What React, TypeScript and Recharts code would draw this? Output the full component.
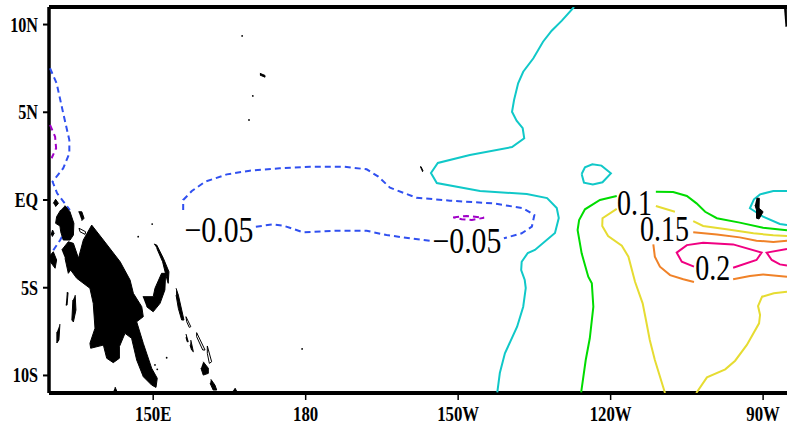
import React from "react";
import { ScatterChart, Scatter, XAxis, YAxis, ReferenceLine } from "recharts";

type P = [number, number];

const lonTicks = [150, 180, 210, 240, 270];
const lonLabels = ["150E", "180", "150W", "120W", "90W"];
const latTicks = [10, 5, 0, -5, -10];
const latLabels = ["10N", "5N", "EQ", "5S", "10S"];

// contours, [longitude east, latitude]
const cyanMain: P[] = [[232.8,11],[230.4,10.22],[228.4,9.65],[226.7,9.02],[224.8,8.08],[222.8,7.31],[221.8,6.65],[221.0,5.7],[220.6,5.03],[221.5,4.52],[222.7,4.09],[223.0,3.52],[220.6,3.02],[212.3,2.57],[206.0,2.11],[204.65,1.54],[205.8,0.97],[214.3,0.51],[223.5,0.34],[227.5,0.11],[229.4,-0.46],[229.8,-1.03],[229.05,-1.88],[225.1,-2.85],[223.7,-3.02],[222.5,-3.52],[222.4,-3.99],[223.1,-4.56],[223.3,-5.02],[222.8,-6.08],[221.6,-7.22],[219.2,-8.74],[218.2,-9.86],[217.7,-10.97]];
const cyanLoop: P[] = [[234.3,1.48],[234.95,1.86],[236.4,2.03],[238.2,1.96],[240.05,1.52],[238.4,1.01],[236.5,0.89],[234.75,0.99],[234.3,1.48]];
const cyanEast: P[] = [[274.7,0.51],[272,0.51],[269.4,0.32],[268.2,0.04],[267.4,-0.47],[270,-0.95],[273.3,-1.37],[274.7,-1.43]];
const greenWest: P[] = [[241.2,0.23],[237.9,0],[234.95,-0.53],[233.8,-1.14],[233.5,-1.71],[234.3,-3.04],[235.6,-4.37],[236.3,-4.75],[236.6,-6.08],[235.9,-7.88],[235.1,-9.12],[234.2,-10.97]];
const greenEast: P[] = [[248.9,0.47],[252.3,0.46],[255.0,0.23],[256.9,-0.19],[258.6,-0.67],[260.9,-1.04],[265.4,-1.29],[270.0,-1.58],[274.7,-1.73]];
const yellowWest: P[] = [[241.2,-0.51],[238.4,-1.04],[238.35,-1.48],[239.5,-2.05],[242.2,-2.6],[243.5,-3.23],[244.8,-4.66],[246.3,-5.89],[246.95,-6.84],[247.7,-7.98],[248.7,-9.12],[250.7,-11]];
const yellowStub: P[] = [[248.9,-0.34],[252.65,-0.67]];
const yellowEast: P[] = [[256.25,-1.2],[258.2,-1.48],[262.8,-1.67],[268.1,-1.9],[272,-2.01],[274.7,-2.05]];
const yellowSouth: P[] = [[274.7,-5.23],[272.1,-5.32],[269.8,-5.51],[269.0,-6.04],[269.4,-6.55],[269.2,-7.03],[266.8,-8.26],[264.5,-9.16],[262.55,-9.65],[258.95,-10.11],[256.85,-11]];
const orangeNorth: P[] = [[256.25,-1.84],[260.9,-1.96],[265.4,-2.13],[268.7,-2.32],[272,-2.39],[274.7,-2.32]];
const orangeWest: P[] = [[248.4,-2.53],[248.7,-3.23],[249.7,-3.8],[251.7,-4.28],[254.3,-4.52],[256.4,-4.67]];
const orangeEast: P[] = [[264.1,-4.52],[267.4,-4.33],[270.0,-4.24],[274.7,-4.37]];
const pinkWest: P[] = [[256.4,-3.8],[254.0,-3.52],[253.0,-3.0],[255.0,-2.57],[258.2,-2.44],[264.1,-2.53],[269.7,-3.0],[268.7,-3.42],[264.1,-3.86]];
const pinkEast: P[] = [[274.7,-2.79],[270.7,-3.0],[271.7,-3.42],[273.3,-3.67],[274.7,-3.74]];
const blueNorth: P[] = [[155.9,-0.57],[155.9,0],[157.6,0.51],[160.2,1.04],[164.5,1.46],[169.0,1.67],[174.9,1.81],[180.85,1.9],[187.4,1.9],[192.0,1.75],[194.3,1.33],[196.6,0.7],[201.8,0.13],[208.4,-0.04],[216.9,-0.19],[222.8,-0.47],[225.0,-0.86],[224.5,-1.52],[222.5,-1.9],[219.0,-2.18]];
const blueSouth: P[] = [[170.2,-1.52],[173.6,-1.39],[175.6,-1.46],[179.5,-1.84],[186.1,-1.75],[192.0,-1.75],[195.9,-2.0],[200.5,-2.18],[204.8,-2.34]];
const blueWest: P[] = [[129.7,7.51],[131.0,6.65],[132.3,4.94],[133.5,3.42],[133.5,2.66],[132.3,1.81],[130.2,1.04],[131.1,0.38],[133.6,-0.57]];
const blueCoast: P[] = [[133.0,-1.6],[131.7,-2.28],[130.15,-2.95]];
const purpleWest: P[] = [[129.7,4.28],[130.7,3.61],[130.9,2.95],[130.0,2.38]];
const purpleSmall: P[] = [[209.0,-0.99],[211.7,-0.91],[215.1,-1.01],[212.7,-1.14],[210.7,-1.1],[209.0,-0.99]];

// land
const newGuinea: P[] = [[132.0,-2.85],[133.3,-2.38],[134.3,-2.47],[135.3,-3.32],[136.25,-2.28],[137.9,-1.43],[140.2,-2.28],[143.5,-3.52],[145.45,-4.56],[146.1,-5.32],[147.75,-6.08],[148.05,-6.65],[146.75,-6.94],[148.05,-8.17],[149.7,-9.59],[150.8,-10.16],[150.55,-10.68],[149.7,-10.55],[148.05,-10.07],[146.75,-9.12],[145.75,-7.88],[144.45,-7.6],[143.35,-8.36],[143.35,-9.02],[142.15,-9.27],[140.85,-9.02],[140.2,-8.27],[137.7,-8.45],[137.55,-8.17],[138.55,-7.31],[138.2,-5.89],[137.55,-5.03],[134.95,-4.46],[133.75,-3.99],[133.3,-4.18],[132.65,-3.32]];
const birdHead: P[] = [[132.65,-0.32],[133.63,-0.67],[134.4,-1.33],[134.3,-2.0],[133.65,-2.28],[132.3,-2.28],[131.8,-1.81],[131.65,-1.48],[130.8,-1.33],[131.0,-0.95],[131.8,-0.57]];
const islet1: P[] = [[130.35,-0.19],[130.8,0.04],[131.35,-0.19],[130.8,-0.38]];
const islet2: P[] = [[129.5,-3.23],[130.35,-2.95],[131.0,-3.42],[130.7,-3.89],[129.5,-3.42]];
const islet3: P[] = [[129.9,-2.0],[130.2,-1.71],[130.5,-1.9],[130.15,-2.09]];
const islet4: P[] = [[135.3,-0.67],[135.95,-0.67],[136.4,-1.04],[135.95,-1.18]];
const newBritain: P[] = [[147.95,-5.51],[150.0,-5.51],[150.35,-5.03],[151.65,-4.18],[152.45,-4.18],[152.3,-5.13],[151.35,-5.89],[150.0,-6.37],[148.7,-6.08]];
const newIreland: P[] = [[150.15,-2.51],[150.7,-2.57],[152.0,-3.32],[153.1,-4.09],[152.95,-4.75],[152.65,-4.46],[151.85,-3.52],[150.7,-2.75]];
const solomon1: P[] = [[154.5,-5.03],[154.95,-5.42],[156.05,-6.84],[155.6,-6.84],[154.95,-6.18],[154.5,-5.42]];
const solomon2: P[] = [[156.45,-7.64],[156.9,-8.08],[156.7,-8.08],[156.45,-7.83]];
const solomon3: P[] = [[157.4,-7.98],[157.9,-8.65],[157.55,-8.55],[157.25,-8.27]];
const guadalcanal: P[] = [[159.85,-9.22],[160.85,-9.59],[160.85,-9.88],[159.85,-9.98],[159.4,-9.59]];
const cristobal: P[] = [[161.35,-10.22],[162.15,-10.55],[162.5,-10.83],[161.8,-10.83],[161.2,-10.45]];
const strip1: P[] = [[133.0,-5.28],[133.25,-5.28],[133.05,-5.99],[132.8,-5.99]];
const strip2: P[] = [[134.65,-5.42],[134.8,-6.27],[134.3,-6.95],[134.0,-6.84],[134.2,-5.7]];
const strip3: P[] = [[131.65,-7.07],[131.45,-7.98],[131.05,-8.15],[131.05,-7.52]];
const southTip1: P[] = [[142.5,-10.66],[142.9,-10.94],[142.1,-10.94]];
const southTip2: P[] = [[166.1,-10.72],[166.5,-10.94],[165.5,-10.94]];
const galapagos: P[] = [[268.7,0.1],[269.25,0.1],[269.2,-0.47],[270.0,-0.67],[269.2,-1.08],[268.7,-1.04],[268.7,-0.57],[268.4,-0.29]];
const eastCoast: P[] = [[274.1,11],[274.55,11],[274.6,9.9],[274.4,9.9]];
const dash1: P[] = [[171.0,7.22],[172.0,7.1],[172.0,7.0],[171.0,7.12]];
const dash2: P[] = [[202.5,1.88],[202.7,1.9],[203.1,1.65],[202.9,1.62]];
const hollow1: P[] = [[135.4,-1.61],[136.7,-1.81],[136.6,-1.96],[135.6,-1.81]];
const hollow2: P[] = [[156.45,-6.65],[157.4,-7.22],[157.1,-7.26],[156.6,-6.94]];
const hollow3: P[] = [[158.55,-7.56],[160.2,-8.55],[159.75,-8.55],[158.55,-7.79]];
const hollow4: P[] = [[160.65,-8.32],[161.5,-9.22],[161.05,-9.31],[160.65,-8.74]];
const specks: P[] = [[167.5,9.35],[169.6,5.93],[168.85,4.56],[179.3,-8.49],[149.8,-1.37],[147.05,-2.09],[150.35,-9.4],[150.8,-9.65],[152.65,-8.99]];

// contour labels
const labelText = ["\u22120.05", "\u22120.05", "0.1", "0.15", "0.2"];
const labelLon = [162.94, 211.73, 244.7, 250.6, 260.1];
const labelLat = [-2.39, -3.02, -0.86, -2.34, -4.56];

const CYAN = "#10c8c8", GREEN = "#00dc00", YELLOW = "#e6dc32", ORANGE = "#f08228", PINK = "#f00082", BLUE = "#3050f0", PURPLE = "#a000c8";

const solid: [P[], string][] = [
  [cyanMain, CYAN], [cyanLoop, CYAN], [cyanEast, CYAN], [greenWest, GREEN], [greenEast, GREEN],
  [yellowWest, YELLOW], [yellowStub, YELLOW], [yellowEast, YELLOW], [yellowSouth, YELLOW],
  [orangeNorth, ORANGE], [orangeWest, ORANGE], [orangeEast, ORANGE], [pinkWest, PINK], [pinkEast, PINK],
];
const dashed: [P[], string][] = [
  [blueNorth, BLUE], [blueSouth, BLUE], [blueWest, BLUE], [blueCoast, BLUE], [purpleWest, PURPLE], [purpleSmall, PURPLE],
];
const land: P[][] = [newGuinea, birdHead, islet1, islet2, islet3, islet4, newBritain, newIreland, solomon1, solomon2, solomon3, guadalcanal, cristobal, strip1, strip2, strip3, southTip1, southTip2, galapagos, eastCoast, dash1, dash2];
const hollow: P[][] = [hollow1, hollow2, hollow3, hollow4];

const pts = (a: P[]) => a.map(([x, y]) => ({ x, y }));
const labelRows = labelText.map((text, i) => ({ x: labelLon[i], y: labelLat[i], text }));
const none = () => null;

const XTick = (p: any) => {
  const i = lonTicks.indexOf(p.payload.value);
  return (
    <text transform={`translate(${p.x},${p.y + 15.5}) scale(0.8,1)`} textAnchor="middle" fontFamily="Liberation Serif" fontWeight="bold" fontSize={21} fill="#000">
      {lonLabels[i]}
    </text>
  );
};
const YTick = (p: any) => {
  const i = latTicks.indexOf(p.payload.value);
  return (
    <text transform={`translate(${p.x},${p.y + 7}) scale(0.77,1)`} textAnchor="end" fontFamily="Liberation Serif" fontWeight="bold" fontSize={21} fill="#000">
      {latLabels[i]}
    </text>
  );
};
const ContourLabel = (p: any) => (
  <text transform={`translate(${p.cx},${p.cy}) scale(${p.text.length > 4 ? 0.85 : 0.8},1)`} textAnchor="middle" fontFamily="Liberation Serif" fontSize={35} fill="#000">
    {p.text}
  </text>
);
const Speck = (p: any) => <circle cx={p.cx} cy={p.cy} r={0.9} fill="#000" />;

export default function App() {
  return (
    <div style={{ position: "absolute", left: 0, top: 0, width: 787, height: 425, background: "#fff" }}>
      <ScatterChart width={787} height={425} margin={{ top: 7, right: 0, bottom: 0, left: 0 }}>
        <XAxis
          type="number" dataKey="x" domain={[129.5, 274.7]} ticks={lonTicks} allowDataOverflow
          height={32} tickSize={7} tickMargin={5} tick={XTick} interval={0}
          axisLine={{ stroke: "#000", strokeWidth: 4 }} tickLine={{ stroke: "#000", strokeWidth: 1.5 }}
        />
        <YAxis
          type="number" dataKey="y" domain={[-11, 11]} ticks={latTicks} allowDataOverflow
          width={49} tickSize={6} tickMargin={5} tick={YTick} interval={0}
          axisLine={{ stroke: "#000", strokeWidth: 3.5 }} tickLine={{ stroke: "#000", strokeWidth: 2 }}
        />
        <ReferenceLine y={11} stroke="#000" strokeWidth={4} ifOverflow="visible" />
        {solid.map(([a, c], i) => (
          <Scatter key={`s${i}`} data={pts(a)} shape={none} isAnimationActive={false} line={{ stroke: c, strokeWidth: 2, fill: "none" }} />
        ))}
        {dashed.map(([a, c], i) => (
          <Scatter key={`d${i}`} data={pts(a)} shape={none} isAnimationActive={false} line={{ stroke: c, strokeWidth: 2, strokeDasharray: "6 4", fill: "none" }} />
        ))}
        {land.map((a, i) => (
          <Scatter key={`l${i}`} data={pts(a)} shape={none} isAnimationActive={false} line={{ stroke: "#000", strokeWidth: 1, fill: "#000" }} />
        ))}
        {hollow.map((a, i) => (
          <Scatter key={`h${i}`} data={pts([...a, a[0]])} shape={none} isAnimationActive={false} line={{ stroke: "#000", strokeWidth: 1, fill: "#fff" }} />
        ))}
        <Scatter data={pts(specks)} shape={Speck} isAnimationActive={false} />
        <Scatter data={labelRows} shape={ContourLabel} isAnimationActive={false} />
      </ScatterChart>
    </div>
  );
}
